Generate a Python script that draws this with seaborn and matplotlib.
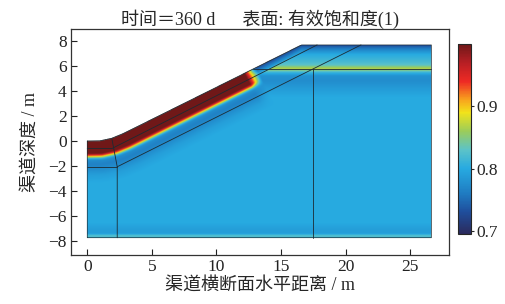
import numpy as np
import matplotlib
matplotlib.use("Agg")
import matplotlib.pyplot as plt
import seaborn as sns
from matplotlib.colors import LinearSegmentedColormap

# Step 1: values

# top surface of the soil section (m)
surf_x = [0.0, 1.0, 1.9, 2.8, 16.6, 26.65]
surf_y = [0.0, 0.02, 0.22, 0.6, 7.65, 7.65]
bottom_y = -7.7

# saturation below the wetted canal slope, vs. distance under the surface
wet_d = [0.0, 1.0, 1.1, 1.18, 1.26, 1.34, 1.42, 1.55, 1.85, 2.25, 2.7, 3.3]
wet_s = [0.999, 0.997, 0.96, 0.92, 0.88, 0.84, 0.80, 0.775, 0.765, 0.775, 0.79, 0.80]

# saturation in the dry berm part, vs. elevation
dry_y = [-7.7, 3.5, 4.3, 4.8, 5.2, 5.45, 5.6, 5.72, 5.85, 6.05, 6.4, 6.9, 7.2, 7.45, 7.65]
dry_s = [0.80, 0.80, 0.785, 0.775, 0.78, 0.81, 0.84, 0.87, 0.86, 0.83, 0.815, 0.80, 0.775, 0.75, 0.725]

# drying right at the exposed surface
top_d = [0.0, 0.2, 0.5, 0.9]
top_s = [0.725, 0.75, 0.79, 1.0]

# thin layer along the bottom boundary
bot_y = [-7.7, -7.55, -7.35, -7.0, -6.5]
bot_s = [0.81, 0.83, 0.79, 0.79, 0.80]

# water line where the wetted band ends
wet_end_y = 5.7

# internal boundaries of the model geometry
mesh_lines = [
    ([2.32, 2.32, 1.9], [bottom_y, -2.05, 0.21]),
    ([0.0, 2.32], [-2.05, -2.05]),
    ([0.0, 1.9, 17.8], [-0.6, -0.6, 7.65]),
    ([2.32, 21.2], [-2.05, 7.65]),
    ([17.5, 17.5], [bottom_y, 5.7]),
    ([12.8, 26.65], [5.7, 5.7]),
]

# colour scale (printed COMSOL rainbow)
cmap_vals = [0.695, 0.73, 0.76, 0.80, 0.83, 0.86, 0.89, 0.91, 0.94, 0.97, 1.0]
cmap_cols = ["#2b2a5c", "#1f4e9c", "#1f7cc2", "#27aae1", "#5cc3c8", "#9bcc5a",
             "#f2e31a", "#f8a51d", "#ee2a24", "#b81f24", "#6e1818"]
vmin, vmax = 0.695, 1.0

# Step 2: build the surface field
gx = np.arange(0, surf_x[-1] + 1e-9, 0.04)
gy = np.arange(bottom_y, max(surf_y) + 1e-9, 0.04)
X, Y = np.meshgrid(gx, gy)

dmin = np.full(X.shape, np.inf)
yfoot = np.zeros(X.shape)
for x0, y0, x1, y1 in zip(surf_x[:-1], surf_y[:-1], surf_x[1:], surf_y[1:]):
    dx, dy = x1 - x0, y1 - y0
    t = np.clip(((X - x0) * dx + (Y - y0) * dy) / (dx * dx + dy * dy), 0, 1)
    px, py = x0 + t * dx, y0 + t * dy
    dist = np.hypot(X - px, Y - py)
    better = dist < dmin
    dmin = np.where(better, dist, dmin)
    yfoot = np.where(better, py, yfoot)

w = np.clip((wet_end_y + 0.15 - yfoot) / 0.45, 0, 1)
s_wet = np.interp(dmin, wet_d, wet_s)
s_dry = np.minimum(np.interp(Y, dry_y, dry_s), np.interp(dmin, top_d, top_s))
S = w * s_wet + (1 - w) * s_dry
S = np.where(Y < bot_y[-1], np.interp(Y, bot_y, bot_s), S)
inside = Y <= np.interp(X, surf_x, surf_y)
S = np.ma.masked_where(~inside, S)

# Step 3: plot
sns.set_style("ticks")
plt.rcParams['font.family'] = ['Liberation Serif', 'Noto Sans CJK SC']
plt.rcParams['axes.unicode_minus'] = True

cmap = LinearSegmentedColormap.from_list(
    "rainbow_print", [((v - vmin) / (vmax - vmin), c) for v, c in zip(cmap_vals, cmap_cols)])

fig = plt.figure(figsize=(5.06, 3.04), dpi=100)
ax = fig.add_axes([0.1403, 0.161, 0.7467, 0.7436])
cax = fig.add_axes([0.9057, 0.2303, 0.025, 0.625])

im = ax.imshow(S, origin="lower", extent=[gx[0], gx[-1], gy[0], gy[-1]],
               cmap=cmap, vmin=vmin, vmax=vmax, interpolation="bilinear", aspect="auto")

for lx, ly in mesh_lines:
    ax.plot(lx, ly, color="#1c2b33", lw=0.6)
ax.plot(surf_x + [surf_x[-1], 0, 0], surf_y + [bottom_y, bottom_y, 0],
        color="#1c2b33", lw=0.5)

ax.set_xlim(-1.26, 28.0)
ax.set_ylim(-9.08, 8.92)
ax.set_xticks([0, 5, 10, 15, 20, 25])
ax.set_yticks([-8, -6, -4, -2, 0, 2, 4, 6, 8])
ax.tick_params(direction="in", length=4, width=0.8, labelsize=12.5, pad=3, colors="#222222")
for sp in ax.spines.values():
    sp.set_linewidth(0.9)
    sp.set_color("#333333")

ax.set_xlabel("渠道横断面水平距离 / m", fontsize=13, labelpad=1)
ax.set_ylabel("渠道深度 / m", fontsize=13, labelpad=7)
ax.set_title("时间＝360 d      表面: 有效饱和度(1)", fontsize=13, pad=2)

cb = fig.colorbar(im, cax=cax, ticks=[0.7, 0.8, 0.9])
cb.ax.tick_params(direction="inout", length=4, width=0.8, labelsize=12.5, pad=2)
cb.outline.set_linewidth(0.8)
cb.ax.set_yticklabels(["0.7", "0.8", "0.9"])

plt.savefig("out.png", dpi=100)
